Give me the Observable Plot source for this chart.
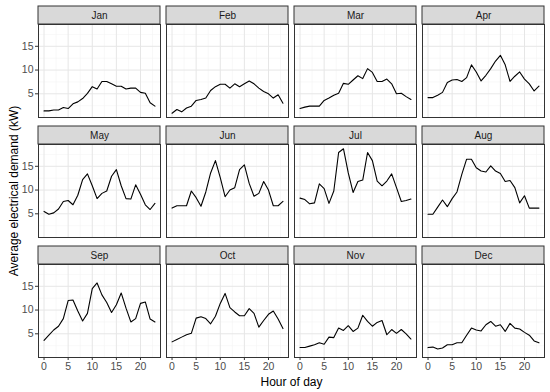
<!DOCTYPE html>
<html><head><meta charset="utf-8">
<script src="https://cdn.jsdelivr.net/npm/d3@7"></script>
<script src="https://cdn.jsdelivr.net/npm/@observablehq/plot@0.6"></script>
<style>body{margin:0;background:#fff}</style>
</head><body><div id="chart"></div>
<script>
const months = ["Jan","Feb","Mar","Apr","May","Jun","Jul","Aug","Sep","Oct","Nov","Dec"];
const hours = [0,1,2,3,4,5,6,7,8,9,10,11,12,13,14,15,16,17,18,19,20,21,22,23];
const jan = [1.4,1.4,1.6,1.6,2.1,1.9,2.9,3.3,4.0,5.1,6.5,6.0,7.6,7.6,7.1,6.6,6.6,6.0,6.2,6.2,5.3,5.1,3.1,2.4];
const feb = [0.9,1.7,1.2,2.0,2.4,3.6,3.8,4.1,5.7,6.5,7.0,7.0,6.2,7.1,6.5,7.1,7.7,7.1,6.2,5.5,5.0,4.1,4.8,3.0];
const mar = [1.9,2.2,2.4,2.4,2.4,3.6,4.1,4.7,5.1,7.2,7.0,7.9,8.8,8.2,10.3,9.5,7.6,7.6,8.1,7.1,5.0,5.1,4.4,3.8];
const apr = [4.2,4.2,4.7,5.3,7.4,7.9,8.0,7.6,8.4,11.1,9.6,7.7,8.9,10.3,11.9,13.1,11.1,7.6,8.7,9.6,8.1,7.1,5.6,6.6];
const may = [5.5,4.9,5.2,6.0,7.6,7.8,6.9,8.9,12.2,13.4,10.9,8.2,9.3,9.8,12.9,14.3,10.9,8.2,8.1,11.1,9.1,6.9,5.9,7.2];
const jun = [6.2,6.7,6.7,6.7,9.8,8.4,6.6,9.6,13.6,16.2,12.6,8.6,10.0,10.5,14.3,15.3,11.4,8.7,9.3,11.8,10.0,6.7,6.7,7.6];
const jul = [8.3,8.0,7.1,7.3,11.3,10.3,7.2,9.8,17.9,18.7,13.6,9.5,11.8,12.1,17.9,16.2,11.9,10.9,11.9,13.4,10.5,7.6,7.8,8.1];
const aug = [4.9,4.9,6.4,7.9,6.5,8.2,9.6,13.3,16.5,16.5,14.7,14.0,13.8,15.1,14.0,13.5,11.8,12.0,10.5,7.3,8.8,6.2,6.2,6.2];
const sep = [3.6,4.7,5.8,6.6,8.2,12.0,12.1,9.8,7.7,9.3,14.5,15.7,13.2,11.6,9.5,11.1,13.6,10.4,7.5,8.2,11.4,11.7,8.1,7.5];
const oct = [3.3,3.8,4.3,4.8,5.1,8.3,8.6,8.2,7.1,8.7,11.4,13.5,10.5,9.6,8.8,8.8,10.3,9.3,6.4,7.8,9.1,9.8,8.1,6.1];
const nov = [2.1,2.1,2.4,2.7,3.1,2.8,4.3,4.2,6.2,5.7,6.7,5.5,6.2,8.9,7.6,6.6,7.4,7.8,4.8,5.9,5.1,5.9,5.0,3.9];
const dec = [2.1,2.2,1.8,2.0,2.7,2.7,3.1,3.1,4.7,6.2,5.8,5.6,6.9,7.6,6.6,6.9,5.5,7.2,6.2,6.0,5.3,4.7,3.5,3.1];
const series = [jan,feb,mar,apr,may,jun,jul,aug,sep,oct,nov,dec];
const xTicks = [0,5,10,15,20];
const xMinor = [2.5,7.5,12.5,17.5,22.5];
const yTicks = [5,10,15];
const yMinor = [2.5,7.5,12.5,17.5];
const xTitle = "Hour of day";
const yTitle = "Average electrical demand (kW)";

const data = months.flatMap((m,i) => series[i].map((v,h) => ({month:m, col:i%4, row:Math.floor(i/4), hour:hours[h], value:v})));
const strips = months.map((m,i) => ({month:m, col:i%4, row:Math.floor(i/4)}));
const [vmin, vmax] = d3.extent(data, d => d.value);
const [hmin, hmax] = d3.extent(hours);
const yDomain = [vmin - 0.05*(vmax-vmin), vmax + 0.05*(vmax-vmin)];
const xDomain = [hmin - 0.05*(hmax-hmin), hmax + 0.05*(hmax-hmin)];

const chart = Plot.plot({
  width: 550, height: 392,
  marginLeft: 37, marginRight: 5, marginTop: 24, marginBottom: 35,
  style: {fontFamily: "'Liberation Sans', Arial, sans-serif", fontSize: "10px", background: "white", color: "#4d4d4d"},
  fx: {axis: null, paddingInner: 0.049, paddingOuter: 0},
  fy: {axis: null, paddingInner: 0.225, paddingOuter: 0},
  x: {domain: xDomain},
  y: {domain: yDomain},
  marks: [
    Plot.ruleX(xMinor, {stroke: "#f3f3f3", strokeWidth: 0.6}),
    Plot.ruleY(yMinor, {stroke: "#f3f3f3", strokeWidth: 0.6}),
    Plot.ruleX(xTicks, {stroke: "#e6e6e6", strokeWidth: 1}),
    Plot.ruleY(yTicks, {stroke: "#e6e6e6", strokeWidth: 1}),
    Plot.line(data, {fx: "col", fy: "row", x: "hour", y: "value", stroke: "black", strokeWidth: 1.1}),
    Plot.frame({stroke: "#333", strokeWidth: 1}),
    Plot.rect(strips, {fx: "col", fy: "row", y1: () => yDomain[1], y2: () => yDomain[1], insetTop: -18, fill: "#d9d9d9", stroke: "#333", strokeWidth: 1}),
    Plot.text(strips, {fx: "col", fy: "row", text: "month", frameAnchor: "top", lineAnchor: "middle", dy: -9, fontSize: 10, fill: "#1a1a1a"}),
    Plot.axisX({ticks: xTicks, tickSize: 3, tickPadding: 2, stroke: "#333", fill: "#4d4d4d", fontSize: 10.5, label: null}),
    Plot.axisY({ticks: yTicks, tickSize: 3, tickPadding: 2, stroke: "#333", fill: "#4d4d4d", fontSize: 10.5, label: null}),
    Plot.axisX({ticks: [], tickSize: 0, fill: "black", fontSize: 12, label: xTitle, labelArrow: false, labelAnchor: "center", labelOffset: 28}),
    Plot.axisY({ticks: [], tickSize: 0, fill: "black", fontSize: 12, label: yTitle, labelArrow: false, labelAnchor: "center", labelOffset: 29})
  ]
});
document.getElementById("chart").appendChild(chart);
</script>
</body></html>
